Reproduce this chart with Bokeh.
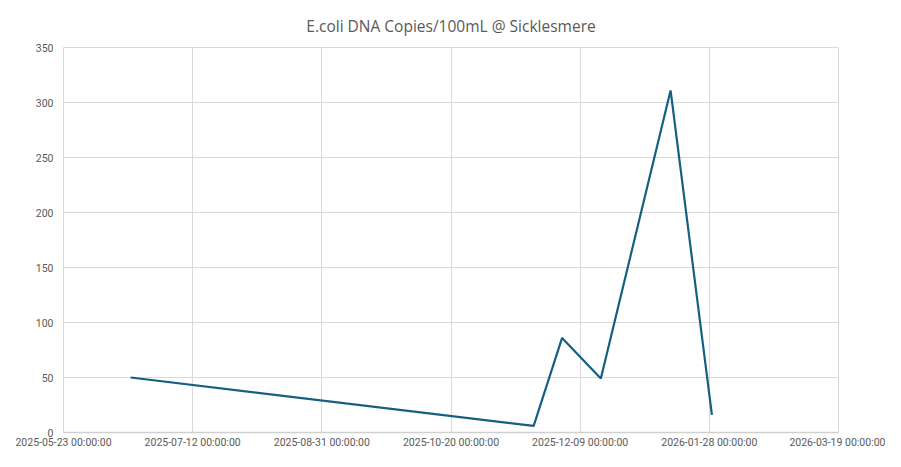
from datetime import datetime
from bokeh.plotting import figure
from bokeh.models import FixedTicker, DatetimeTickFormatter, Range1d, Title
from bokeh.embed import file_html
from bokeh.resources import INLINE

# ---- data ----
dates = ["2025-06-18", "2025-11-21", "2025-12-02", "2025-12-17", "2026-01-13", "2026-01-29"]
copies = [50, 6, 86, 49, 311, 16]
x_ticks = ["2025-05-23", "2025-07-12", "2025-08-31", "2025-10-20",
           "2025-12-09", "2026-01-28", "2026-03-19"]
y_ticks = [0, 50, 100, 150, 200, 250, 300, 350]
title_text = "E.coli DNA Copies/100mL @ Sicklesmere"

def ms(d):
    return datetime.strptime(d, "%Y-%m-%d").timestamp() * 1000.0

xs = [datetime.strptime(d, "%Y-%m-%d") for d in dates]
tick_ms = [ms(d) for d in x_ticks]

W, H = 885, 451
p = figure(width=W, height=H, x_axis_type="datetime", output_backend="svg",
           toolbar_location=None,
           x_range=Range1d(tick_ms[0], tick_ms[-1]),
           y_range=Range1d(y_ticks[0], y_ticks[-1]),
           min_border_left=63, min_border_right=47,
           min_border_top=47, min_border_bottom=16)

p.title = Title(text=title_text, align="center", text_font="Open Sans",
                text_font_size="15.5px", text_font_style="normal",
                text_color="#595959", offset=0, standoff=21,
                text_line_height=0.8)

p.line(xs, copies, line_color="#156082", line_width=2.2)

p.xaxis.ticker = FixedTicker(ticks=tick_ms)
fmt = "%Y-%m-%d 00:00:00"
p.xaxis.formatter = DatetimeTickFormatter(
    microseconds=fmt, milliseconds=fmt, seconds=fmt, minsec=fmt, minutes=fmt,
    hourmin=fmt, hours=fmt, days=fmt, months=fmt, years=fmt)
p.yaxis.ticker = FixedTicker(ticks=y_ticks)

for ax in (p.xaxis[0], p.yaxis[0]):
    ax.major_tick_line_color = None
    ax.minor_tick_line_color = None
    ax.major_tick_out = 0
    ax.major_tick_in = 0
    ax.minor_tick_out = 0
    ax.minor_tick_in = 0
    ax.major_label_text_font = "Roboto"
    ax.major_label_text_font_size = "10.5px"
    ax.major_label_text_color = "#595959"

p.xaxis.major_label_standoff = 3
p.yaxis.major_label_standoff = 10

p.xaxis.axis_line_color = "#d0d0d0"
p.xaxis.axis_line_width = 1.5
p.yaxis.axis_line_color = None

p.xgrid.ticker = FixedTicker(ticks=tick_ms)
p.ygrid.ticker = FixedTicker(ticks=y_ticks)
p.xgrid.grid_line_color = "#d9d9d9"
p.ygrid.grid_line_color = "#d9d9d9"
p.outline_line_color = "#d9d9d9"
p.background_fill_color = "white"
p.border_fill_color = "white"

open("out.html", "w").write(file_html(p, INLINE))
